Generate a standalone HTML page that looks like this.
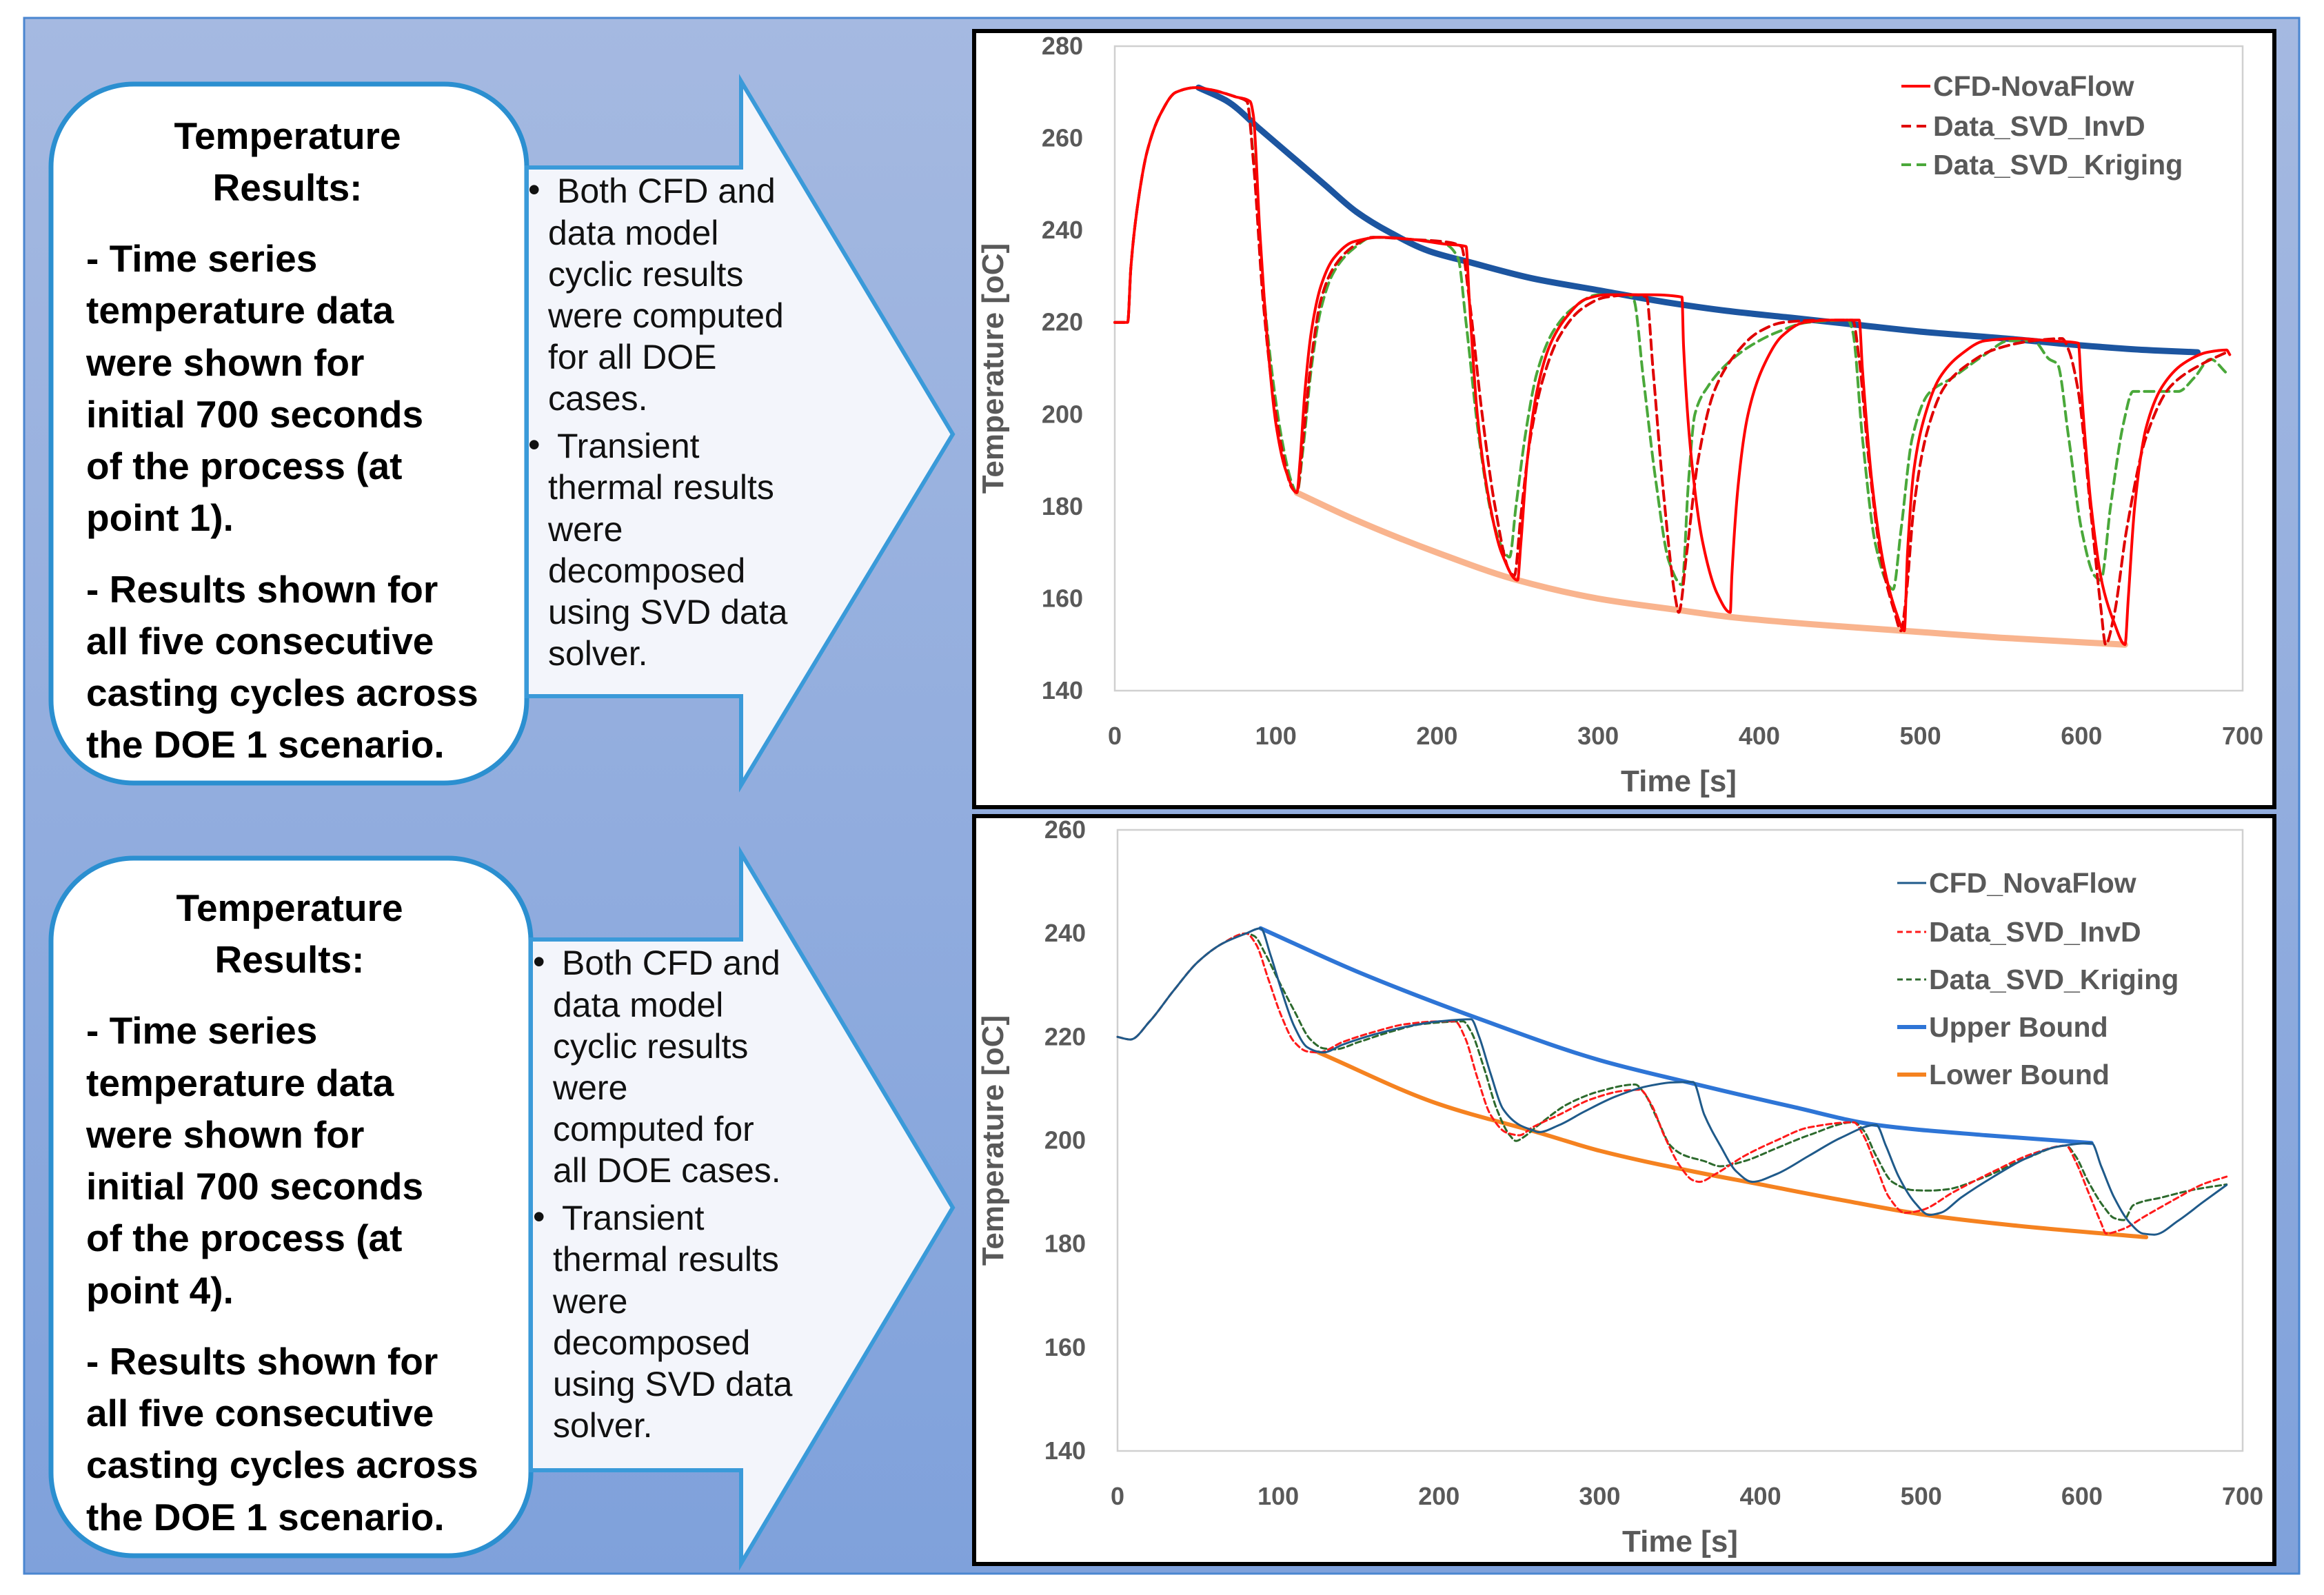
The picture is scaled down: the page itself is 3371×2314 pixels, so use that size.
<!DOCTYPE html>
<html><head><meta charset="utf-8"><style>
html,body{margin:0;padding:0;background:#fff;}
svg{display:block;}
text{font-family:"Liberation Sans",sans-serif;}
</style></head><body>
<svg id="root" width="3371" height="2314" viewBox="0 0 3371 2314" xmlns="http://www.w3.org/2000/svg">
<defs>
<linearGradient id="bg" x1="0" y1="0" x2="0" y2="1"><stop offset="0" stop-color="#a5b9e1"/><stop offset="1" stop-color="#7fa1db"/></linearGradient>
</defs>
<rect x="35" y="26" width="3300" height="2257" fill="url(#bg)" stroke="#4a86d0" stroke-width="3"/>

<g>
<rect x="74" y="122" width="690" height="1014" rx="120" fill="#fff" stroke="#2b8fd0" stroke-width="7"/>
<g font-weight="bold" font-size="55" fill="#000">
<text x="417" y="216" text-anchor="middle">Temperature</text>
<text x="417" y="291" text-anchor="middle">Results:</text>
<text x="125" y="394">- Time series</text>
<text x="125" y="469">temperature data</text>
<text x="125" y="545">were shown for</text>
<text x="125" y="620">initial 700 seconds</text>
<text x="125" y="695">of the process (at</text>
<text x="125" y="770">point 1).</text>
<text x="125" y="874">- Results shown for</text>
<text x="125" y="949">all five consecutive</text>
<text x="125" y="1024">casting cycles across</text>
<text x="125" y="1099">the DOE 1 scenario.</text>
</g></g>
<g>
<polygon points="764,243 1075,243 1075,118 1382,630 1075,1139 1075,1010 764,1010" fill="#f3f5fb" stroke="#3a9ad9" stroke-width="6"/>
<g font-size="50" fill="#111">
<text x="766" y="292">•</text><text x="808" y="294">Both CFD and</text>
<text x="795" y="355">data model</text>
<text x="795" y="415">cyclic results</text>
<text x="795" y="475">were computed</text>
<text x="795" y="535">for all DOE</text>
<text x="795" y="595">cases.</text>
<text x="766" y="662">•</text><text x="808" y="664">Transient</text>
<text x="795" y="724">thermal results</text>
<text x="795" y="785">were</text>
<text x="795" y="845">decomposed</text>
<text x="795" y="905">using SVD data</text>
<text x="795" y="965">solver.</text>
</g></g>

<g>
<rect x="74" y="1245" width="696" height="1012" rx="120" fill="#fff" stroke="#2b8fd0" stroke-width="7"/>
<g font-weight="bold" font-size="55" fill="#000">
<text x="420" y="1336" text-anchor="middle">Temperature</text>
<text x="420" y="1411" text-anchor="middle">Results:</text>
<text x="125" y="1514">- Time series</text>
<text x="125" y="1590">temperature data</text>
<text x="125" y="1665">were shown for</text>
<text x="125" y="1740">initial 700 seconds</text>
<text x="125" y="1815">of the process (at</text>
<text x="125" y="1891">point 4).</text>
<text x="125" y="1994">- Results shown for</text>
<text x="125" y="2069">all five consecutive</text>
<text x="125" y="2144">casting cycles across</text>
<text x="125" y="2220">the DOE 1 scenario.</text>
</g></g>
<g>
<polygon points="770,1363 1075,1363 1075,1238 1382,1752 1075,2268 1075,2133 770,2133" fill="#f3f5fb" stroke="#3a9ad9" stroke-width="6"/>
<g font-size="50" fill="#111">
<text x="773" y="1412">•</text><text x="815" y="1414">Both CFD and</text>
<text x="802" y="1475">data model</text>
<text x="802" y="1535">cyclic results</text>
<text x="802" y="1595">were</text>
<text x="802" y="1655">computed for</text>
<text x="802" y="1715">all DOE cases.</text>
<text x="773" y="1782">•</text><text x="815" y="1784">Transient</text>
<text x="802" y="1844">thermal results</text>
<text x="802" y="1905">were</text>
<text x="802" y="1965">decomposed</text>
<text x="802" y="2025">using SVD data</text>
<text x="802" y="2085">solver.</text>
</g></g>

<g id="chart1"></g>
<g id="chart2"></g>
</svg>
<script>
// ---------- Chart 1 data (point 1) ----------
const c1YTicks = [140,160,180,200,220,240,260,280];
const c1XTicks = [0,100,200,300,400,500,600,700];
const c1CfdT = [0,8,10,14,20,28,38,50,60,75,84,86,90,95,100,106,113,115,118,122,128,136,148,165,185,205,218,220,225,232,240,250,252,256,262,270,280,292,305,330,352,353,358,365,374,382,383,387,393,402,414,428,445,462,464,470,478,485,490,492,496,503,512,525,540,560,580,598,600,606,613,620,627,629,633,640,650,663,678,690,692];
const c1CfdV = [220,220,232,245,257,265,270,271,270.5,269,268,265,240,215,198,188,183,190,205,218,228,234,237.5,238.5,238,237,236.5,225,200,182,170,164,172,190,205,215,221,225,226,226,225.5,215,190,172,161,157,165,185,200,210,217,220,220.5,220.5,210,185,166,157,153,170,188,200,208,213,216,216.5,216,215.5,205,180,163,155,150,160,180,197,206,211,213.5,214,213];
const c1InvT = [0,8,10,14,20,28,38,50,60,75,82,86,92,98,104,110,113,117,122,128,136,148,160,185,205,215,220,228,236,245,248,252,258,266,276,290,305,322,330,334,340,348,350,355,362,372,385,400,415,440,458,462,468,476,484,488,491,496,504,515,530,545,570,588,592,598,606,612,615,620,628,640,655,675,690];
const c1InvV = [220,220,232,245,257,265,270,271,270.5,269,268,255,225,205,192,184,183,195,212,225,232,236.5,238.5,238,237.5,236.5,225,200,180,166,165,178,195,208,217,223,225.5,226,225.5,210,185,160,157,170,190,205,213,218,220,220.5,220.5,212,190,168,157,153,160,180,196,206,211,214,216,216.5,214,205,178,158,150,156,175,195,206,211,213.5,214];
const c1KriT = [0,8,10,14,20,28,38,50,60,75,82,86,92,98,104,110,113,117,122,128,136,148,160,185,205,213,218,226,234,242,245,249,255,262,272,284,300,318,322,328,336,344,352,356,360,368,380,395,412,430,455,458,464,472,480,483,488,495,505,520,540,555,570,580,585,592,600,608,612,618,626,632,645,660,670,680,690];
const c1KriV = [220,220,232,245,257,265,270,271,270.5,269,268,256,228,208,194,185,183,193,210,223,231,236,238.5,238,237,234,220,195,178,170,169,180,196,209,218,223,226,226,225,208,185,168,163,185,200,206,211,215,218,220,220.5,218,195,172,163,162,175,195,204.5,208,213,216,216,212,211,195,175,165,164,180,198,205,205,205,208,212,209];
const c1UpT = [52,70,90,110,130,150,171,195,221,260,300,340,380,420,460,500,553,600,640,672];
const c1UpV = [271,268,262,256,250,244,239.5,235.5,233,229.5,227,224.5,222.5,221,219.5,218,216.5,215,214,213.5];
const c1LoT = [113,150,200,250,300,350,382,430,490,550,627];
const c1LoV = [183,177,170,164,160,157.5,156,154.5,153,151.5,150];
const c1Legend = ["CFD-NovaFlow","Data_SVD_InvD","Data_SVD_Kriging"];

// ---------- Chart 2 data (point 4) ----------
const c2YTicks = [140,160,180,200,220,240,260];
const c2XTicks = [0,100,200,300,400,500,600,700];
const c2CfdT = [0,8,20,35,50,65,80,89,95,102,110,118,124,128,140,160,180,200,220,225,232,240,250,258,262,275,290,310,330,345,358,365,375,385,395,410,430,450,472,478,486,496,505,512,525,545,565,585,606,612,620,630,638,645,660,675,690];
const c2CfdV = [220,219.5,223,229,234.5,238,240,241,236,229,222,218,217.2,217,218.5,220.5,222,223,223.4,220,213,206,203,202,201.6,203,205.5,208.5,210.5,211.2,211.3,205,199,194,192,193.5,197,200.5,203,199,193,188,185.6,186,189,193,196.5,198.8,199.5,195,189,184,182,181.8,184.5,188,191.4];
const c2InvT = [0,8,20,35,50,65,80,86,94,102,110,118,125,140,160,180,200,210,216,224,232,242,250,258,275,295,315,325,332,340,350,358,362,372,390,410,430,458,464,472,480,490,500,520,545,570,590,596,604,612,615,625,640,660,675,690];
const c2InvV = [220,219.5,223,229,234.5,238,240,238,231,224,219,217.2,217,219,221,222.5,223,223,220,212,205,201.5,201,202.5,205,208,209.6,209.8,207,201,195,192.3,192,193.5,197,200,202.5,203.5,201,195,189,186,186.5,190,194,197.5,199,196,190,184,182,182.8,185.5,189,191.5,193];
const c2KriT = [0,8,20,35,50,65,80,85,92,100,110,120,128,135,150,170,190,215,220,228,236,244,248,252,262,280,300,322,328,336,344,352,365,375,390,410,430,458,464,472,482,495,505,515,540,565,590,596,604,614,620,626,632,650,670,690];
const c2KriV = [220,219.5,223,229,234.5,238,240,239.5,236,231,225,219.5,217.8,217.6,219,221,222.5,223,221,214,206,201,199.9,200.5,203,207,209.5,210.8,209,204,199,197.2,196,195,196,198.5,201,203.5,202,197,192,190.4,190.3,190.5,193,196.5,199,197,192,187,185,184.6,187.5,189,190.5,191.5];
const c2UpT = [89,150,225,300,358,420,472,540,606];
const c2UpV = [241,232.5,223.5,215.5,211,206.5,203,201,199.5];
const c2LoT = [125,200,262,300,358,400,450,505,560,640];
const c2LoV = [217,207,201.5,198,194,191.5,188.5,185.5,183.5,181.3];
const c2Legend = ["CFD_NovaFlow","Data_SVD_InvD","Data_SVD_Kriging","Upper Bound","Lower Bound"];

const NS = "http://www.w3.org/2000/svg";
function mk(tag, attrs, parent){
  const e = document.createElementNS(NS, tag);
  for (const k in attrs) e.setAttribute(k, attrs[k]);
  parent.appendChild(e);
  return e;
}
// monotone cubic (Fritsch-Carlson) path in pixel space
function linePath(ts, vs, sx, sy){
  const X = ts.map(sx), Y = vs.map(sy), n = X.length;
  if (n < 3) return "M"+X[0]+","+Y[0]+"L"+X[1]+","+Y[1];
  const d = [], m = new Array(n);
  for (let i=0;i<n-1;i++) d.push((Y[i+1]-Y[i])/((X[i+1]-X[i])||1e-6));
  m[0]=d[0]; m[n-1]=d[n-2];
  for (let i=1;i<n-1;i++){
    if (d[i-1]*d[i] <= 0) m[i]=0;
    else { const h0=X[i]-X[i-1], h1=X[i+1]-X[i];
      m[i] = 3*(h0+h1)/((2*h1+h0)/d[i-1] + (h1+2*h0)/d[i]); }
  }
  let p = "M"+X[0].toFixed(1)+","+Y[0].toFixed(1);
  for (let i=0;i<n-1;i++){
    const h=(X[i+1]-X[i])/3;
    p += "C"+(X[i]+h).toFixed(1)+","+(Y[i]+m[i]*h).toFixed(1)+" "+(X[i+1]-h).toFixed(1)+","+(Y[i+1]-m[i+1]*h).toFixed(1)+" "+X[i+1].toFixed(1)+","+Y[i+1].toFixed(1);
  }
  return p;
}

function drawChart(g, box, plot, yMin, yMax, yTicks, xTicks){
  const frame = mk("rect",{x:box.x,y:box.y,width:box.w,height:box.h,fill:"#fff",stroke:"#000","stroke-width":6},g);
  
  
  const pa = mk("rect",{x:plot.x0,y:plot.y0,width:plot.x1-plot.x0,height:plot.y1-plot.y0,fill:"none",stroke:"#d0d0d0","stroke-width":2.5},g);
  
  
  const sx = t => plot.x0 + (t - 0)/(700 - 0)*(plot.x1-plot.x0);
  const sy = v => plot.y1 - (v - yMin)/(yMax - yMin)*(plot.y1-plot.y0);
  yTicks.forEach(v=>{
    const t = mk("text",{x:plot.x0-46,y:sy(v)+12,"text-anchor":"end","font-size":36,"font-weight":"bold",fill:"#595959"},g);
    t.textContent = v;
    
    
  });
  xTicks.forEach(v=>{
    const t = mk("text",{x:sx(v),y:plot.y1+78,"text-anchor":"middle","font-size":36,"font-weight":"bold",fill:"#595959"},g);
    t.textContent = v;
    
    
  });
  const xt = mk("text",{x:(plot.x0+plot.x1)/2,y:plot.y1+146,"text-anchor":"middle","font-size":44,"font-weight":"bold",fill:"#595959"},g);
  xt.textContent = "Time [s]";
  
  
  const cy = (plot.y0+plot.y1)/2;
  const yt = mk("text",{x:box.x+42,y:cy,"text-anchor":"middle","font-size":44,"font-weight":"bold",fill:"#595959",transform:"rotate(-90 "+(box.x+42)+" "+cy+")"},g);
  yt.textContent = "Temperature [oC]";
  
  
  return {sx, sy};
}
function series(g, ts, vs, s, style, name){
  const p = mk("path",Object.assign({d:linePath(ts,vs,s.sx,s.sy),fill:"none","stroke-linejoin":"round","stroke-linecap":"round"},style),g);
  
  
}
function legend(g, x, ys, labels, styles){
  labels.forEach((lab,i)=>{
    const st = Object.assign({}, styles[i]);
    const l = mk("line",Object.assign({x1:x,x2:x+42,y1:ys[i],y2:ys[i]},st),g);
    
    
    const t = mk("text",{x:x+46,y:ys[i]+14,"font-size":41,"font-weight":"bold",fill:"#595959"},g);
    t.textContent = lab;
    
    
  });
}

(function(){
  const g = document.getElementById("chart1");
  const s = drawChart(g,{x:1413,y:45,w:1886,h:1126},{x0:1617,x1:3253,y0:67,y1:1002},140,280,c1YTicks,c1XTicks);
  const stCfd = {stroke:"#ff0000","stroke-width":4};
  const stInv = {stroke:"#e00000","stroke-width":4,"stroke-dasharray":"14 8"};
  const stKri = {stroke:"#4aa83a","stroke-width":4,"stroke-dasharray":"14 8"};
  series(g,c1UpT,c1UpV,s,{stroke:"#1c55a0","stroke-width":9},"upper-bound-line");
  series(g,c1LoT,c1LoV,s,{stroke:"#f9b48e","stroke-width":9},"lower-bound-line");
  series(g,c1KriT,c1KriV,s,stKri,"kriging-line");
  series(g,c1InvT,c1InvV,s,stInv,"invd-line");
  series(g,c1CfdT,c1CfdV,s,stCfd,"cfd-novaflow-line");
  legend(g,2758,[125,183,239],c1Legend,[stCfd,stInv,stKri]);
})();
(function(){
  const g = document.getElementById("chart2");
  const s = drawChart(g,{x:1413,y:1184,w:1886,h:1085},{x0:1621,x1:3253,y0:1204,y1:2105},140,260,c2YTicks,c2XTicks);
  const stCfd = {stroke:"#1f5a8a","stroke-width":3};
  const stInv = {stroke:"#ff1a1a","stroke-width":3,"stroke-dasharray":"8 5"};
  const stKri = {stroke:"#2d6a2d","stroke-width":3,"stroke-dasharray":"8 5"};
  const stUp = {stroke:"#2e75d6","stroke-width":6};
  const stLo = {stroke:"#f58220","stroke-width":6};
  series(g,c2UpT,c2UpV,s,stUp,"upper-bound-line");
  series(g,c2LoT,c2LoV,s,stLo,"lower-bound-line");
  series(g,c2KriT,c2KriV,s,stKri,"kriging-line");
  series(g,c2InvT,c2InvV,s,stInv,"invd-line");
  series(g,c2CfdT,c2CfdV,s,stCfd,"cfd-novaflow-line");
  legend(g,2752,[1281,1352,1421,1490,1559],c2Legend,[stCfd,stInv,stKri,stUp,stLo]);
})();
</script>
</body></html>
